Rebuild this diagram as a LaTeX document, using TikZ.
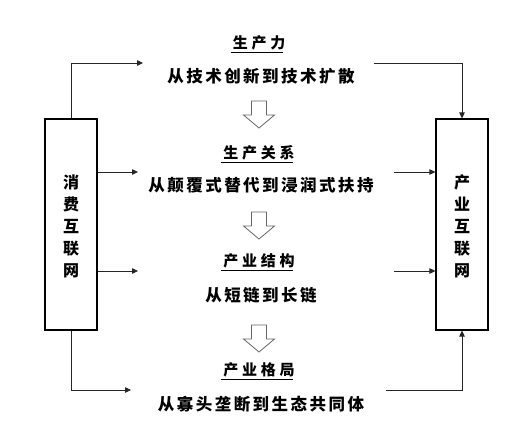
\documentclass[tikz,border=0pt]{standalone}
\usepackage{fontspec}
\usetikzlibrary{arrows.meta}
\newfontfamily\cjk{Noto Sans CJK SC}
\newfontfamily\cjkbody[LetterSpace=15]{Noto Sans CJK SC}
\newfontfamily\cjkhead[LetterSpace=25]{Noto Sans CJK SC}
\begin{document}
\begin{tikzpicture}[x=1pt,y=-1pt,
  headtxt/.style={inner sep=0pt,font=\cjkhead\bfseries\fontsize{15}{17}\selectfont},
  bodytxt/.style={inner sep=0pt,font=\cjkbody\bfseries\fontsize{16.5}{18}\selectfont},
  sidebox/.style={draw,line width=1.1pt,minimum width=52pt,minimum height=211pt,inner sep=0pt},
  sidetxt/.style={inner sep=0pt,align=center,font=\cjk\bfseries\fontsize{16}{22}\selectfont},
  conn/.style={line width=0.8pt,draw=black!85,-{Triangle[length=6pt,width=5.5pt]}},
  hollow/.pic={\draw[line width=0.8pt,draw=black!60,fill=white,line join=miter]
     (-7.5,0) -- (7.5,0) -- (7.5,14) -- (15.5,14) -- (0,27) -- (-15.5,14) -- (-7.5,14) -- cycle;}
]
\useasboundingbox[fill=white] (0,0) rectangle (512,432);

\node[sidebox] (lbox) at (71,224.5) {};
\node[sidebox] (rbox) at (462,224.5) {};
\node[sidetxt] (ltxt) at (71,226) {消\\费\\互\\联\\网};
\node[sidetxt] (rtxt) at (462,226) {产\\业\\互\\联\\网};

\node[headtxt] (h1) at (259,43) {生产力};
\node[bodytxt] (b1) at (261,76) {从技术创新到技术扩散};
\node[headtxt] (h2) at (259,153) {生产关系};
\node[bodytxt] (b2) at (261,185) {从颠覆式替代到浸润式扶持};
\node[headtxt] (h3) at (259,261) {产业结构};
\node[bodytxt] (b3) at (261,295) {从短链到长链};
\node[headtxt] (h4) at (259,370) {产业格局};
\node[bodytxt] (b4) at (261,404) {从寡头垄断到生态共同体};

\foreach \h in {h1,h2,h3,h4}{
  \draw[line width=0.9pt] ([xshift=-2pt,yshift=-2pt]\h.south west) -- ([xshift=-2pt,yshift=-2pt]\h.south east);
}

\pic at (259,101) {hollow};
\pic at (259,212) {hollow};
\pic at (259,325) {hollow};

\coordinate (l1) at (143,63);
\coordinate (r1) at (374,63);
\coordinate (l2) at (138,172);
\coordinate (r2) at (394,172);
\coordinate (l3) at (138,271);
\coordinate (r3) at (394,271);
\coordinate (l4) at (131,390);
\coordinate (r4) at (386,390);

\draw[conn] (lbox.north) |- (l1);
\draw[conn] (r1) -| (rbox.north);
\draw[conn] (lbox.east |- l2) -- (l2);
\draw[conn] (r2) -- (rbox.west |- r2);
\draw[conn] (lbox.east |- l3) -- (l3);
\draw[conn] (r3) -- (rbox.west |- r3);
\draw[conn] (lbox.south) |- (l4);
\draw[conn] (r4) -| (rbox.south);
\end{tikzpicture}
\end{document}
